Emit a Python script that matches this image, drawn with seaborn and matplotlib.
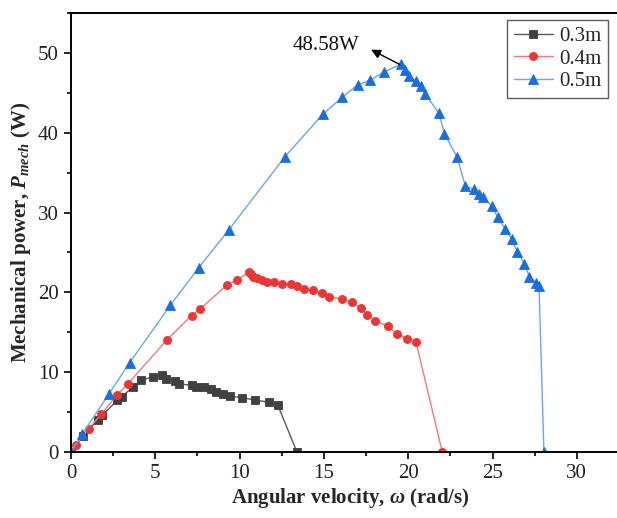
import matplotlib
matplotlib.use("Agg")
import matplotlib.pyplot as plt
from matplotlib.ticker import MultipleLocator
import numpy as np
import pandas as pd
import seaborn as sns

# ---------------- data ----------------
omega_03 = [0.0, 0.69, 1.58, 1.86, 2.75, 3.02, 3.66, 4.15, 4.85, 5.38, 5.65, 6.18, 6.38,
            7.15, 7.43, 7.86, 8.30, 8.58, 9.00, 9.43, 10.14, 10.92, 11.72, 12.26, 13.40]
power_03 = [0.0, 1.95, 4.0, 4.6, 6.5, 6.95, 8.1, 9.0, 9.4, 9.7, 9.2, 8.85, 8.55,
            8.35, 8.2, 8.1, 7.85, 7.55, 7.3, 7.0, 6.8, 6.5, 6.25, 5.9, 0.0]

omega_04 = [0.0, 0.30, 1.05, 1.80, 2.71, 3.36, 5.67, 7.15, 7.66, 9.23, 9.87, 10.56, 10.68,
            10.81, 11.05, 11.35, 11.64, 12.06, 12.50, 13.03, 13.40, 13.84, 14.37, 14.90,
            15.32, 16.05, 16.66, 17.20, 17.54, 18.05, 18.78, 19.32, 19.95, 20.46, 22.02]
power_04 = [0.0, 0.9, 2.9, 4.75, 7.1, 8.5, 14.0, 17.1, 17.9, 20.9, 21.6, 22.5, 22.3,
            21.95, 21.75, 21.5, 21.3, 21.25, 21.1, 21.1, 20.8, 20.45, 20.25, 19.9,
            19.4, 19.2, 18.75, 18.1, 17.2, 16.4, 15.8, 14.8, 14.2, 13.8, 0.0]

omega_05 = [0.0, 0.67, 2.24, 3.48, 5.90, 7.58, 9.35, 12.69, 14.93, 16.09, 17.00, 17.75,
            18.57, 19.55, 19.83, 20.05, 20.44, 20.78, 20.98, 21.83, 22.14, 22.90, 23.39,
            23.92, 24.22, 24.45, 24.97, 25.31, 25.74, 26.14, 26.47, 26.89, 27.18, 27.58,
            27.76, 28.05]
power_05 = [0.0, 2.25, 7.25, 11.2, 18.4, 23.1, 27.8, 37.0, 42.3, 44.45, 46.0, 46.6,
            47.6, 48.58, 47.9, 47.05, 46.5, 45.9, 44.9, 42.45, 39.9, 36.95, 33.3,
            32.9, 32.3, 31.9, 30.8, 29.4, 28.0, 26.7, 25.1, 23.6, 21.95, 21.2,
            20.8, 0.0]

series_labels = ["0.3m", "0.4m", "0.5m"]
peak_label = "48.58W"
peak_text_pos = (15.1, 50.9)
peak_arrow_head = (17.8, 50.4)
peak_arrow_tail = (19.5, 48.55)

# ---------------- style ----------------
sns.set_theme(style="ticks")
plt.rcParams["font.family"] = ["Liberation Serif", "DejaVu Serif"]
plt.rcParams["mathtext.fontset"] = "custom"
plt.rcParams["mathtext.rm"] = "Liberation Serif"
plt.rcParams["mathtext.it"] = "Liberation Serif:italic:bold"
plt.rcParams["mathtext.bf"] = "Liberation Serif:bold"

fig = plt.figure(figsize=(6.17, 5.18), dpi=100)
px_per_x = 16.86
xmax = 33.2
ax = fig.add_axes([71 / 617, 1 - 452 / 518, xmax * px_per_x / 617, (452 - 13) / 518])

styles = [
    dict(marker="s", line="#5a5a5a", face="#404040", ms=5.4),
    dict(marker="o", line="#f27a7a", face="#ee3535", ms=5.8),
    dict(marker="^", line="#6aa6ee", face="#1a6ee0", ms=6.8),
]
datasets = [(omega_03, power_03), (omega_04, power_04), (omega_05, power_05)]

for (xs, ys), lab, st in zip(datasets, series_labels, styles):
    df = pd.DataFrame({"omega": xs, "P": ys})
    sns.lineplot(data=df, x="omega", y="P", ax=ax, sort=False, estimator=None,
                 color=st["line"], linewidth=1.0, marker=st["marker"],
                 markersize=st["ms"], markerfacecolor=st["face"],
                 markeredgecolor=st["face"], markeredgewidth=0.6, label=lab)

ax.set_xlim(0, xmax)
ax.set_ylim(0, 55)
ax.xaxis.set_major_locator(MultipleLocator(5))
ax.xaxis.set_minor_locator(MultipleLocator(2.5))
ax.yaxis.set_major_locator(MultipleLocator(10))
ax.yaxis.set_minor_locator(MultipleLocator(5))
ax.tick_params(axis="both", which="major", direction="out", length=5, width=1.2,
               labelsize=15, color="black", labelcolor="#222222", pad=4)
ax.tick_params(axis="both", which="minor", direction="out", length=3, width=1.2,
               color="black")
ax.tick_params(top=False, right=False)
for side in ["left", "bottom", "top", "right"]:
    ax.spines[side].set_visible(True)
    ax.spines[side].set_linewidth(1.4)
    ax.spines[side].set_color("black")

ax.set_xlabel(r"Angular velocity, $\omega$ (rad/s)", fontsize=15, fontweight="bold",
              labelpad=2)
ax.set_ylabel(r"Mechanical power, $P_{mech}$ (W)", fontsize=15, fontweight="bold",
              labelpad=3)

ax.text(peak_text_pos[0], peak_text_pos[1], peak_label, fontsize=15, ha="center",
        va="center", color="#111111")
ax.annotate("", xy=peak_arrow_head, xytext=peak_arrow_tail,
            arrowprops=dict(arrowstyle="-|>", color="black", lw=1.0,
                            shrinkA=0, shrinkB=0, mutation_scale=14))

leg = ax.legend(loc="upper right", bbox_to_anchor=(608 / 617, 1 - 20 / 518),
                bbox_transform=fig.transFigure, borderaxespad=0, fontsize=15,
                frameon=True, fancybox=False, handlelength=1.9, handletextpad=0.3,
                labelspacing=0.15, borderpad=0.3)
leg.get_frame().set_edgecolor("#333333")
leg.get_frame().set_linewidth(1.0)

fig.savefig("out.png", dpi=100)
